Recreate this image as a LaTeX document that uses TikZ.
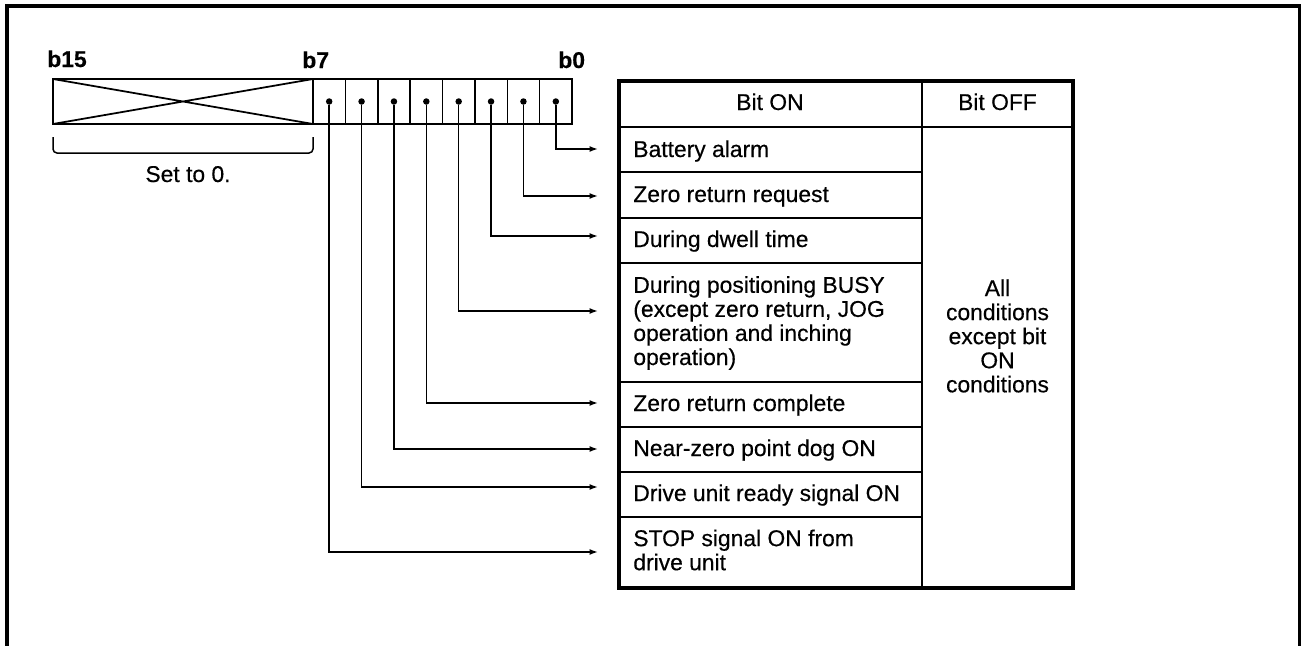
\documentclass[tikz,border=0pt]{standalone}
\usepackage{fontspec}
\setmainfont{Liberation Sans}[FakeBold=0.4]
\usetikzlibrary{positioning, arrows.meta}

\begin{document}
\begin{tikzpicture}[x=0.2mm, y=-0.2mm,
  txt/.style={font=\fontsize{13}{13.7}\selectfont, inner sep=0pt},
  bitlbl/.style={txt, font=\fontsize{13}{13.7}\selectfont\bfseries, anchor=base west},
  pad/.style={draw, line width=0.3mm, outer sep=0pt, inner sep=0pt, minimum width=52mm, minimum height=9mm},
  cell/.style={draw, line width=0.3mm, outer sep=0pt, inner sep=0pt, minimum width=6.475mm, minimum height=9mm},
  dot/.style={circle, fill, inner sep=0pt, minimum size=1.3mm},
  wire/.style={line width=0.3mm, -{Latex[length=1.7mm, width=1.2mm]}},
  frame/.style={line width=0.7mm},
  rule/.style={line width=0.35mm}]
\useasboundingbox (0,0) rectangle (1302,646);
\draw[frame] (7,646) -- (7,6) -- (1299.5,6) -- (1299.5,646);
% register b15..b0
\node[pad] (pad) at (183,101.5) {};
\draw[line width=0.35mm] (pad.north west) -- (pad.south east) (pad.south west) -- (pad.north east);
\node[cell, right=0pt of pad] (c7) {};
\node[cell, right=0pt of c7] (c6) {};
\node[cell, right=0pt of c6] (c5) {};
\node[cell, right=0pt of c5] (c4) {};
\node[cell, right=0pt of c4] (c3) {};
\node[cell, right=0pt of c3] (c2) {};
\node[cell, right=0pt of c2] (c1) {};
\node[cell, right=0pt of c1] (c0) {};
\node[dot] (d7) at (c7) {}; \node[dot] (d6) at (c6) {};
\node[dot] (d5) at (c5) {}; \node[dot] (d4) at (c4) {};
\node[dot] (d3) at (c3) {}; \node[dot] (d2) at (c2) {};
\node[dot] (d1) at (c1) {}; \node[dot] (d0) at (c0) {};
\node[bitlbl] (b15) at (47,67) {b15};
\node[bitlbl] (b7) at (302,68) {b7};
\node[bitlbl] (b0) at (558,68) {b0};
\draw[line width=0.3mm, rounded corners=0.8mm] (53,137) |- (313,153) -- (313,137);
\node[txt, anchor=base] (zero) at (188,182) {Set to 0.};
% table
\draw[rule] (922,81) -- (922,588);
\draw[rule] (619,127) -- (1073,127);
\draw[rule] (619,172) -- (922,172); \draw[rule] (619,218) -- (922,218);
\draw[rule] (619,263) -- (922,263); \draw[rule] (619,382) -- (922,382);
\draw[rule] (619,427) -- (922,427); \draw[rule] (619,472) -- (922,472);
\draw[rule] (619,517) -- (922,517);
\draw[frame] (619,81) rectangle (1073,588);
\node[txt, anchor=base] (on) at (770,110) {Bit ON};
\node[txt, anchor=base] (off) at (997.5,110) {Bit OFF};
\node[txt, anchor=base west] (r0) at (633,157) {Battery alarm};
\node[txt, anchor=base west] (r1) at (633,202) {Zero return request};
\node[txt, anchor=base west] (r2) at (633,247) {During dwell time};
\node[txt, anchor=west, align=left] (r3) at (633,323) {During positioning BUSY\\(except zero return, JOG\\operation and inching\\operation)};
\node[txt, anchor=base west] (r4) at (633,411) {Zero return complete};
\node[txt, anchor=base west] (r5) at (633,456) {Near-zero point dog ON};
\node[txt, anchor=base west] (r6) at (633,501) {Drive unit ready signal ON};
\node[txt, anchor=west, align=left] (r7) at (633,550) {STOP signal ON from\\drive unit};
\node[txt, align=center] (rest) at (997.5,336) {All\\conditions\\except bit\\ON\\conditions};
% bit -> condition
\coordinate (t0) at (598,149); \coordinate (t1) at (598,196);
\coordinate (t2) at (598,236); \coordinate (t3) at (598,311);
\coordinate (t4) at (598,403); \coordinate (t5) at (598,449);
\coordinate (t6) at (598,487); \coordinate (t7) at (598,552);
\draw[wire] (d0) |- (t0); \draw[wire] (d1) |- (t1);
\draw[wire] (d2) |- (t2); \draw[wire] (d3) |- (t3);
\draw[wire] (d4) |- (t4); \draw[wire] (d5) |- (t5);
\draw[wire] (d6) |- (t6); \draw[wire] (d7) |- (t7);
\end{tikzpicture}
\end{document}
